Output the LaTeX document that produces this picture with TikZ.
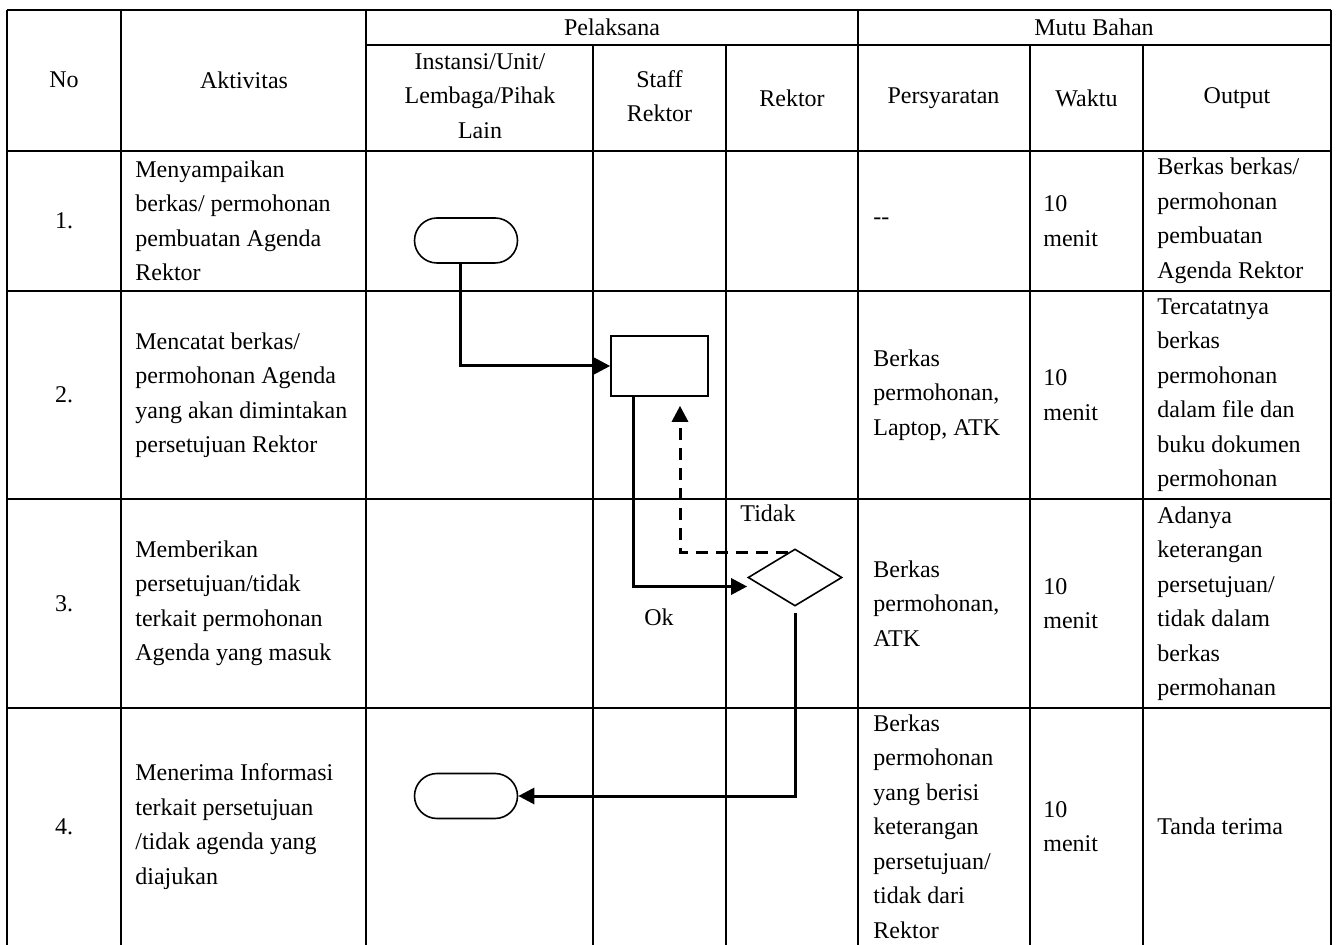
\documentclass[tikz,border=0pt]{standalone}
\usepackage{fontspec}
\setmainfont{Liberation Serif}
\usetikzlibrary{shapes.geometric,shapes.misc,arrows.meta}
\tikzstyle{tbl}=[line width=1pt]
\tikzstyle{txt}=[inner sep=0pt,align=left,anchor=west,font=\fontsize{12}{17.25}\selectfont]
\tikzstyle{hd}=[inner sep=0pt,align=center,font=\fontsize{12}{17.25}\selectfont]
\tikzstyle{term}=[rounded rectangle,draw=black,line width=0.8pt,minimum width=51.5pt,minimum height=22.5pt,inner sep=0pt]
\tikzstyle{proc}=[rectangle,draw=black,line width=0.8pt,minimum width=48.5pt,minimum height=30pt,inner sep=0pt]
\tikzstyle{dec}=[diamond,draw=black,line width=0.8pt,minimum width=47pt,minimum height=28.5pt,inner sep=0pt]
\tikzstyle{flow}=[line width=1.5pt,-{Triangle[length=8pt,width=8pt]}]
\begin{document}
\begin{tikzpicture}[x=0.5pt,y=-0.5pt]
\useasboundingbox (0,0) rectangle (1337,945);
% garis tabel
\draw[tbl] (7,10) -- (1331,10);
\draw[tbl] (366,45) -- (1331,45);
\draw[tbl] (7,151) -- (1331,151);
\draw[tbl] (7,291) -- (1331,291);
\draw[tbl] (7,499) -- (1331,499);
\draw[tbl] (7,708) -- (1331,708);
\draw[tbl] (7,10) -- (7,945);
\draw[tbl] (121,10) -- (121,945);
\draw[tbl] (366,10) -- (366,945);
\draw[tbl] (593,45) -- (593,945);
\draw[tbl] (726,45) -- (726,945);
\draw[tbl] (858,10) -- (858,945);
\draw[tbl] (1030,45) -- (1030,945);
\draw[tbl] (1143,45) -- (1143,945);
\draw[tbl] (1331,10) -- (1331,945);
% kepala tabel
\node[hd] (hno) at (64,80) {No};
\node[hd] (hakt) at (244,80) {Aktivitas};
\node[hd] (hpel) at (612,27) {Pelaksana};
\node[hd] (hmutu) at (1094,27) {Mutu Bahan};
\node[hd] (hinst) at (480,96) {Instansi/Unit/\\Lembaga/Pihak\\Lain};
\node[hd] (hstaff) at (659.5,96) {Staff\\Rektor};
\node[hd] (hrek) at (792,98) {Rektor};
\node[hd] (hsyarat) at (943.5,98) {Persyaratan};
\node[hd] (hwaktu) at (1086.5,98) {Waktu};
\node[hd] (hout) at (1237,98) {Output};
% nomor
\node[hd] (n1) at (64,221) {1.};
\node[hd] (n2) at (64,395) {2.};
\node[hd] (n3) at (64,603.5) {3.};
\node[hd] (n4) at (64,826.5) {4.};
% aktivitas
\node[txt] (a1) at (135,221) {Menyampaikan\\berkas/ permohonan\\pembuatan Agenda\\Rektor};
\node[txt] (a2) at (135,395) {Mencatat berkas/\\permohonan Agenda\\yang akan dimintakan\\persetujuan Rektor};
\node[txt] (a3) at (135,603.5) {Memberikan\\persetujuan/tidak\\terkait permohonan\\Agenda yang masuk};
\node[txt] (a4) at (135,826.5) {Menerima Informasi\\terkait persetujuan\\/tidak agenda yang\\diajukan};
% persyaratan
\node[txt] (p1) at (873,221) {{-}{-}};
\node[txt] (p2) at (873,395) {Berkas\\permohonan,\\Laptop, ATK};
\node[txt] (p3) at (873,603.5) {Berkas\\permohonan,\\ATK};
\node[txt] (p4) at (873,826.5) {Berkas\\permohonan\\yang berisi\\keterangan\\persetujuan/\\tidak dari\\Rektor};
% waktu
\node[txt] (w1) at (1043,221) {10\\menit};
\node[txt] (w2) at (1043,395) {10\\menit};
\node[txt] (w3) at (1043,603.5) {10\\menit};
\node[txt] (w4) at (1043,826.5) {10\\menit};
% output
\node[txt] (o1) at (1157,221) {Berkas berkas/\\permohonan\\pembuatan\\Agenda Rektor};
\node[txt] (o2) at (1157,395) {Tercatatnya\\berkas\\permohonan\\dalam file dan\\buku dokumen\\permohonan};
\node[txt] (o3) at (1157,603.5) {Adanya\\keterangan\\persetujuan/\\tidak dalam\\berkas\\permohanan};
\node[txt] (o4) at (1157,826.5) {Tanda terima};
% bagan alir
\node[term] (mulai) at (466,240.5) {};
\node[proc] (catat) at (659.5,366) {};
\node[dec] (setuju) at (795,577.5) {};
\node[term] (selesai) at (466,796) {};
\node[hd] (tidak) at (768,513) {Tidak};
\node[hd] (ok) at (659,617) {Ok};
\draw[flow] ([xshift=-3pt]mulai.south) |- (catat.west);
\draw[flow] ([xshift=11.5pt]catat.south west) |- ([yshift=-4.5pt]setuju.west);
\draw[flow,dash pattern=on 6pt off 4pt] ([xshift=-3.5pt,yshift=-2pt]setuju.north) -| ([xshift=10.25pt,yshift=-4.5pt]catat.south);
\draw[flow] ([yshift=-3pt]setuju.south) |- (selesai.east);
\end{tikzpicture}
\end{document}
